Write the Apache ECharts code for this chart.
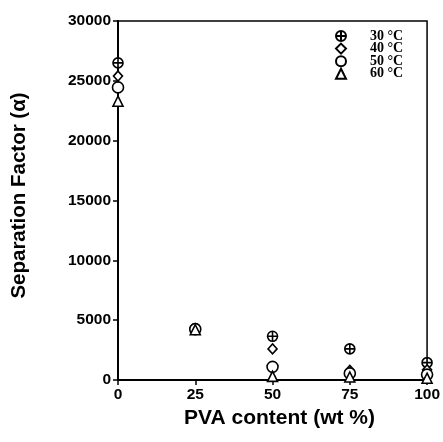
<!DOCTYPE html>
<html>
<head>
<meta charset="utf-8">
<script src="https://cdn.jsdelivr.net/npm/echarts@6/dist/echarts.min.js"></script>
<style>
  html, body { margin: 0; padding: 0; background: #fff; }
  #chart { width: 443px; height: 442px; }
</style>
</head>
<body>
<div id="chart"></div>
<script>
  // PVA content (wt %)
  const pvaContent = [0, 25, 50, 75, 100]
  // separation factor per temperature
  const sep30 = [26500, 4300, 3650, 2600, 1450]
  const sep40 = [25400, 4250, 2600, 800, 850]
  const sep50 = [24450, 4250, 1100, 550, 450]
  const sep60 = [23300, 4200, 300, 250, 150]
  const tempNames = ['30 °C', '40 °C', '50 °C', '60 °C']
  const yTicks = [0, 5000, 10000, 15000, 20000, 25000, 30000]
  const xTicks = [0, 25, 50, 75, 100]

  const crossCircle = 'path://M0,-10A10,10 0 1,1 0,10A10,10 0 1,1 0,-10ZM-10,0L10,0M0,-10L0,10'

  const toPoints = (vals) => pvaContent.map((x, i) => [x, vals[i]])

  const makeSeries = (name, vals, symbol, size) => ({
    name: name,
    type: 'scatter',
    data: toPoints(vals),
    symbol: symbol,
    symbolSize: size,
    itemStyle: {
      color: '#fff',
      borderColor: '#000',
      borderWidth: 1.6,
      opacity: 1
    },
    emphasis: { disabled: true },
    clip: false
  })

  // one legend block per row so the rows sit tight like the original
  const makeLegend = (name, i) => ({
    orient: 'vertical',
    left: 330,
    top: 24 + i * 12.6,
    itemWidth: 10,
    itemHeight: 10,
    selectedMode: false,
    data: [name],
    textStyle: {
      fontFamily: 'Liberation Serif',
      fontWeight: 'bold',
      fontSize: 14,
      color: '#000',
      padding: [0, 0, 0, 19]
    }
  })

  const tickFont = {
    fontFamily: 'Liberation Sans',
    fontWeight: 'bold',
    fontSize: 15.5,
    color: '#000'
  }

  const chart = echarts.init(document.getElementById('chart'))
  chart.setOption({
    animation: false,
    backgroundColor: '#fff',
    grid: {
      left: 118,
      right: 12,
      top: 21,
      bottom: 62,
      show: true,
      borderColor: '#000',
      borderWidth: 1.5
    },
    legend: tempNames.map(makeLegend),
    xAxis: {
      type: 'value',
      min: xTicks[0],
      max: xTicks[xTicks.length - 1],
      interval: 25,
      name: 'PVA content (wt %)',
      nameLocation: 'middle',
      nameGap: 28,
      nameTextStyle: {
        fontFamily: 'Liberation Sans',
        fontWeight: 'bold',
        fontSize: 21,
        color: '#000',
        verticalAlign: 'top',
        padding: [0, 0, 0, 14]
      },
      splitLine: { show: false },
      axisLine: { show: true, lineStyle: { color: '#000', width: 2 } },
      axisTick: { show: true, length: 5, lineStyle: { color: '#000', width: 1.5 } },
      axisLabel: Object.assign({ margin: 7 }, tickFont)
    },
    yAxis: {
      type: 'value',
      min: yTicks[0],
      max: yTicks[yTicks.length - 1],
      interval: 5000,
      name: 'Separation Factor (α)',
      nameLocation: 'middle',
      nameGap: 88,
      nameTextStyle: {
        fontFamily: 'Liberation Sans',
        fontWeight: 'bold',
        fontSize: 20.5,
        color: '#000',
        padding: [0, 0, 0, 10]
      },
      splitLine: { show: false },
      axisLine: { show: true, lineStyle: { color: '#000', width: 2 } },
      axisTick: { show: true, length: 5, lineStyle: { color: '#000', width: 1.5 } },
      axisLabel: Object.assign({ margin: 7, formatter: (v) => String(v) }, tickFont)
    },
    series: [
      makeSeries(tempNames[0], sep30, crossCircle, 10),
      makeSeries(tempNames[1], sep40, 'diamond', [9, 10]),
      makeSeries(tempNames[2], sep50, 'circle', 11),
      makeSeries(tempNames[3], sep60, 'triangle', [10, 10])
    ]
  })
</script>
</body>
</html>
